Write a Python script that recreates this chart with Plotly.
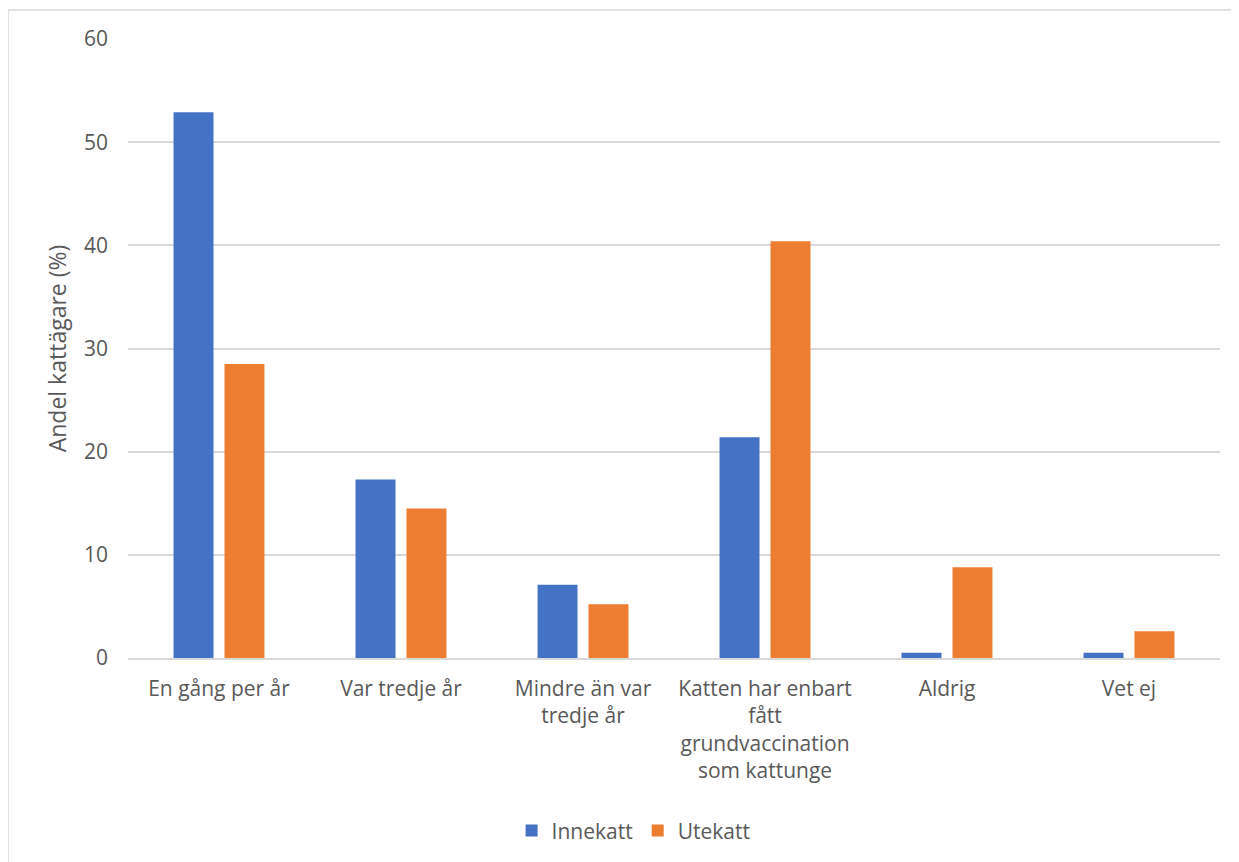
import plotly.graph_objects as go

categories = [
    "En gång per år",
    "Var tredje år",
    "Mindre än var<br>tredje år",
    "Katten har enbart<br>fått<br>grundvaccination<br>som kattunge",
    "Aldrig",
    "Vet ej",
]
innekatt = [52.9, 17.3, 7.1, 21.4, 0.5, 0.5]
utekatt = [28.5, 14.5, 5.2, 40.4, 8.8, 2.6]
y_ticks = [0, 10, 20, 30, 40, 50, 60]

FONT = "Open Sans"
TXT = "#595959"
GRID = "#d9d9d9"

fig = go.Figure()
fig.add_trace(go.Bar(name="Innekatt", x=categories, y=innekatt,
                     marker=dict(color="#4472c4", line=dict(width=0))))
fig.add_trace(go.Bar(name="Utekatt", x=categories, y=utekatt,
                     marker=dict(color="#ed7d31", line=dict(width=0))))

fig.update_layout(
    width=1231, height=854,
    margin=dict(l=120, r=19, t=31, b=203),
    paper_bgcolor="white", plot_bgcolor="white",
    barmode="group", bargap=0.44, bargroupgap=0.216,
    font=dict(family=FONT, color=TXT, size=21),
    showlegend=True,
    legend=dict(orientation="h", x=0.463, xanchor="center", y=-0.277, yanchor="middle",
                font=dict(size=21, color=TXT), itemwidth=30, traceorder="normal"),
    xaxis=dict(showgrid=False, showline=True, linecolor=GRID, linewidth=1.5,
               ticks="", tickfont=dict(size=21, color=TXT), tickangle=0,
               ticklabelstandoff=11),
    yaxis=dict(range=[0, 60], tickvals=y_ticks, showgrid=True, gridcolor=GRID, gridwidth=1.5,
               zeroline=False, showline=False, ticks="", ticklabelstandoff=19,
               tickfont=dict(size=21, color=TXT),
               title=dict(text="Andel kattägare (%)", font=dict(size=23, color=TXT), standoff=10)),
    shapes=[
        dict(type="line", xref="paper", yref="paper", x0=-0.1099, x1=-0.1099, y0=1.0468, y1=-0.5,
             line=dict(color="#d9d9d9", width=1.5)),
        dict(type="line", xref="paper", yref="paper", x0=-0.1099, x1=1.2, y0=1.0468, y1=1.0468,
             line=dict(color="#d9d9d9", width=1.5)),
    ],
)

fig.write_html("out.html")
